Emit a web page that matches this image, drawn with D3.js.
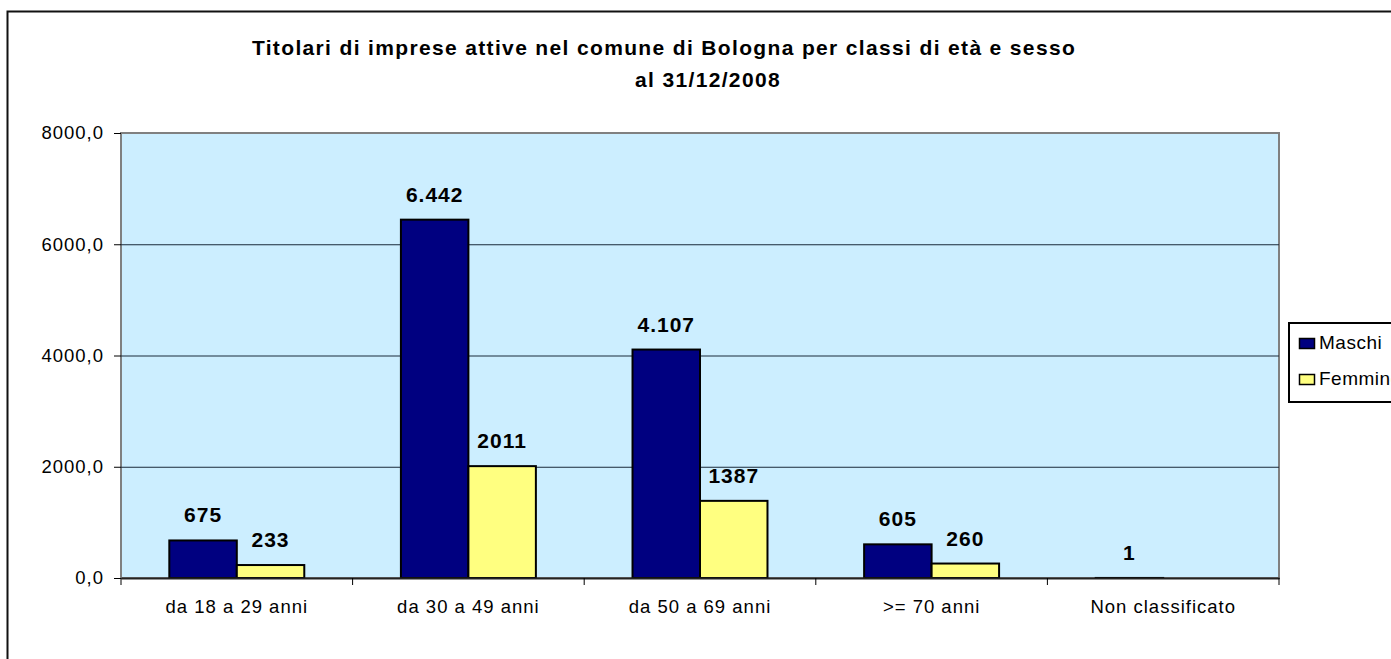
<!DOCTYPE html>
<html>
<head>
<meta charset="utf-8">
<script src="https://cdn.jsdelivr.net/npm/d3@7"></script>
<style>
  body { margin: 0; background: #fff; }
  svg { display: block; font-family: "Liberation Sans", Arial, sans-serif; }
</style>
</head>
<body>
<script>
const categories = ["da 18 a 29 anni", "da 30 a 49 anni", "da 50 a 69 anni", ">= 70 anni", "Non classificato"];
const seriesNames = ["Maschi", "Femmine"];
const maschi = [675, 6442, 4107, 605, 1];
const femmine = [233, 2011, 1387, 260, 0];
const maschiLabels = ["675", "6.442", "4.107", "605", "1"];
const femmineLabels = ["233", "2011", "1387", "260", ""];
const yTicks = [0, 2000, 4000, 6000, 8000];
const colors = ["#000080", "#ffff80"];

const width = 1391, height = 659;
const plotLeft = 121, plotRight = 1279, plotTop = 133, plotBottom = 578;
const FONT = "Liberation Sans, Arial, sans-serif";

const svg = d3.select("body").append("svg")
  .attr("width", width)
  .attr("height", height);

svg.append("rect").attr("width", width).attr("height", height).attr("fill", "#fff");

// outer chart border (runs past right/bottom edges)
svg.append("rect")
  .attr("x", 7.5).attr("y", 11.5)
  .attr("width", width).attr("height", height)
  .attr("fill", "none").attr("stroke", "#111").attr("stroke-width", 2);

// title
svg.append("text")
  .attr("x", 664).attr("y", 55)
  .attr("text-anchor", "middle")
  .attr("font-size", 21).attr("font-weight", "bold")
  .attr("letter-spacing", 1.35)
  .text("Titolari di imprese attive nel comune di Bologna per classi di età e sesso");
svg.append("text")
  .attr("x", 708).attr("y", 87)
  .attr("text-anchor", "middle")
  .attr("font-size", 21).attr("font-weight", "bold")
  .attr("letter-spacing", 1.35)
  .text("al 31/12/2008");

const x = d3.scaleBand().domain(categories).range([plotLeft, plotRight]);
const xs = d3.scaleBand().domain(seriesNames).range([0, x.bandwidth()]).paddingOuter(0.716);
const y = d3.scaleLinear().domain([0, 8000]).range([plotBottom, plotTop]);

// plot area
svg.append("rect")
  .attr("x", plotLeft).attr("y", plotTop)
  .attr("width", plotRight - plotLeft).attr("height", plotBottom - plotTop)
  .attr("fill", "#cceeff").attr("stroke", "#808080").attr("stroke-width", 2);

// gridlines
svg.append("g")
  .selectAll("line")
  .data(yTicks.filter(d => d > 0 && d < 8000))
  .join("line")
  .attr("x1", plotLeft).attr("x2", plotRight)
  .attr("y1", d => y(d) + 0.5).attr("y2", d => y(d) + 0.5)
  .attr("stroke", "#1a2a3a").attr("stroke-width", 1);

// bars + value labels
const data = [maschi, femmine];
const labels = [maschiLabels, femmineLabels];
seriesNames.forEach((s, si) => {
  svg.append("g")
    .selectAll("rect")
    .data(categories)
    .join("rect")
    .attr("x", (c) => x(c) + xs(s))
    .attr("y", (c, i) => y(data[si][i]))
    .attr("width", xs.bandwidth())
    .attr("height", (c, i) => y(0) - y(data[si][i]))
    .attr("fill", colors[si])
    .attr("stroke", "#000")
    .attr("stroke-width", 2);

  svg.append("g")
    .selectAll("text")
    .data(categories)
    .join("text")
    .attr("x", (c) => x(c) + xs(s) + xs.bandwidth() / 2)
    .attr("y", (c, i) => y(data[si][i]) - 18)
    .attr("text-anchor", "middle")
    .attr("font-size", 21).attr("font-weight", "bold")
    .attr("letter-spacing", 1)
    .text((c, i) => labels[si][i]);
});

// y axis
const yAxis = svg.append("g")
  .attr("transform", `translate(${plotLeft},0)`)
  .call(d3.axisLeft(y).tickValues(yTicks).tickSize(7).tickPadding(10)
    .tickFormat(d => d3.format(".1f")(d).replace(".", ",")));
yAxis.select(".domain").remove();
yAxis.selectAll(".tick line").attr("stroke", "#000");
yAxis.selectAll("text").attr("font-size", 18.5).attr("fill", "#000")
  .attr("letter-spacing", 1).attr("font-family", FONT);

// x axis
const xAxis = svg.append("g")
  .attr("transform", `translate(0,${plotBottom})`)
  .call(d3.axisBottom(x).tickSize(0).tickPadding(22));
xAxis.select(".domain").attr("stroke", "#222").attr("stroke-width", 2);
xAxis.selectAll("text").attr("font-size", 18.5).attr("fill", "#000")
  .attr("letter-spacing", 1).attr("font-family", FONT);
svg.append("g")
  .selectAll("line")
  .data(categories.map(c => x(c)).concat([plotRight]))
  .join("line")
  .attr("x1", d => d).attr("x2", d => d)
  .attr("y1", plotBottom).attr("y2", plotBottom + 7)
  .attr("stroke", "#000");

// legend (cut by the right edge, as in the source picture)
const lg = svg.append("g");
lg.append("rect")
  .attr("x", 1289).attr("y", 323)
  .attr("width", 140).attr("height", 79)
  .attr("fill", "#fff").attr("stroke", "#000").attr("stroke-width", 2);
seriesNames.forEach((s, i) => {
  lg.append("rect")
    .attr("x", 1299.5).attr("y", 338.5 + i * 36)
    .attr("width", 15).attr("height", 10)
    .attr("fill", colors[i]).attr("stroke", "#000").attr("stroke-width", 1.5);
  lg.append("text")
    .attr("x", 1319).attr("y", 349 + i * 36)
    .attr("font-size", 19)
    .attr("letter-spacing", 0.5)
    .text(s);
});
</script>
</body>
</html>
